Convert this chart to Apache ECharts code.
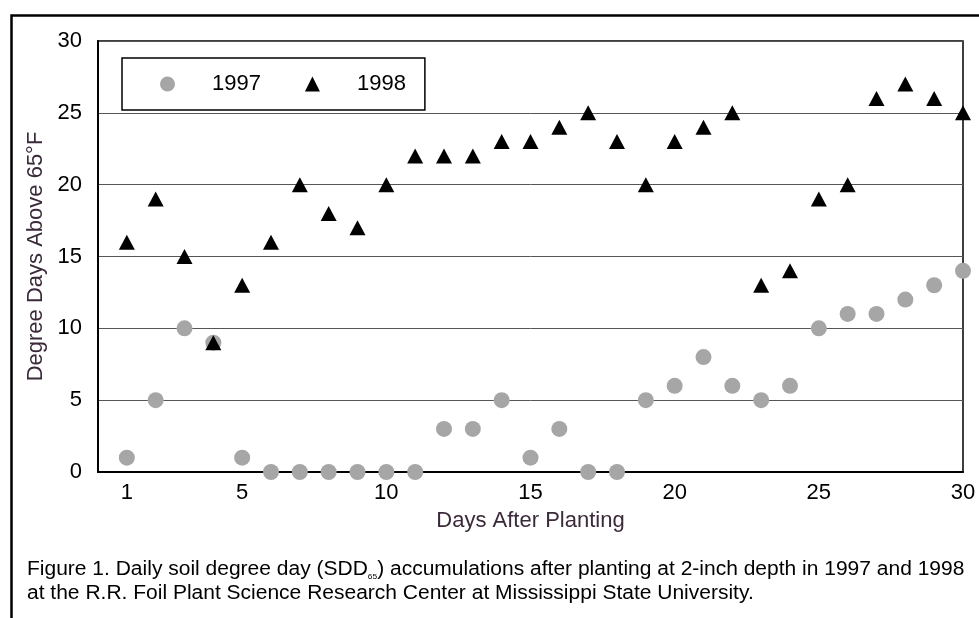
<!DOCTYPE html>
<html>
<head>
<meta charset="utf-8">
<script src="https://cdn.jsdelivr.net/npm/echarts@6/dist/echarts.min.js"></script>
<style>
html,body{margin:0;padding:0;background:#fff;}
#c{width:979px;height:618px;}
</style>
</head>
<body>
<div id="c"></div>
<script>
const days = [1,2,3,4,5,6,7,8,9,10,11,12,13,14,15,16,17,18,19,20,21,22,23,24,25,26,27,28,29,30];
const values1997 = [1,5,10,9,1,0,0,0,0,0,0,3,3,5,1,3,0,0,5,6,8,6,5,6,10,11,11,12,13,14];
const values1998 = [16,19,15,9,13,16,20,18,17,20,22,22,22,23,23,24,25,23,20,23,24,25,13,14,19,20,26,27,26,25];
const xTickLabels = [1,5,10,15,20,25,30];

const chart = echarts.init(document.getElementById('c'), null, {renderer:'canvas'});
const font = '"Liberation Sans", Arial, sans-serif';
const titleColor = '#3a2a3a';

chart.setOption({
  animation: false,
  backgroundColor: '#fff',
  textStyle: {fontFamily: font},
  grid: {left: 98, top: 41, right: 16, bottom: 146, show: true, borderColor: '#000', borderWidth: 1.5},
  legend: {
    left: 122, top: 58,
    orient: 'horizontal',
    backgroundColor: '#fff',
    borderColor: '#000', borderWidth: 1.5, borderRadius: 0,
    padding: [15, 19, 15, 38],
    itemWidth: 15, itemHeight: 15, itemGap: 44,
    textStyle: {fontSize: 22, color: '#000', fontFamily: font, padding: [0, 0, 0, 32]},
    data: [{name: '1997', icon: 'circle'}, {name: '1998', icon: 'triangle'}]
  },
  xAxis: {
    type: 'value', min: 0, max: 30,
    name: 'Days After Planting', nameLocation: 'middle', nameGap: 38,
    nameTextStyle: {fontSize: 22, color: titleColor, fontFamily: font},
    axisLine: {show: true, onZero: false, lineStyle: {color: '#000', width: 2}},
    axisTick: {show: false},
    splitLine: {show: false},
    axisLabel: {customValues: xTickLabels, fontSize: 22, color: '#000', margin: 10, fontFamily: font}
  },
  yAxis: {
    type: 'value', min: 0, max: 30, interval: 5,
    name: 'Degree Days Above 65°F', nameLocation: 'middle', nameGap: 50,
    nameTextStyle: {fontSize: 22, color: titleColor, fontFamily: font},
    axisLine: {show: true, lineStyle: {color: '#000', width: 2}},
    axisTick: {show: false},
    splitLine: {show: true, lineStyle: {color: '#555', width: 1}},
    axisLabel: {fontSize: 22, color: '#000', margin: 16, fontFamily: font}
  },
  series: [
    {
      name: '1997', type: 'scatter', symbol: 'circle', symbolSize: 16,
      itemStyle: {color: '#a6a6a6', opacity: 1},
      data: days.map((d, i) => [d, values1997[i]]),
      z: 3
    },
    {
      name: '1998', type: 'scatter', symbol: 'triangle', symbolSize: [16, 15],
      itemStyle: {color: '#000', opacity: 1},
      data: days.map((d, i) => [d, values1998[i]]),
      z: 4
    }
  ],
  graphic: [
    {type: 'rect', left: 9, top: 13, shape: {x: 0, y: 0, width: 1100, height: 800},
     style: {fill: null, stroke: '#000', lineWidth: 2.5}, silent: true, z: 100},
    {type: 'text', left: 27, top: 557, z: 100, scaleX: 1.05, originX: 0,
     style: {
       text: 'Figure 1. Daily soil degree day (SDD{sub|65}) accumulations after planting at 2-inch depth in 1997 and 1998\nat the R.R. Foil Plant Science Research Center at Mississippi State University.',
       font: '20px ' + font, fill: '#000', lineHeight: 24,
       rich: {sub: {fontSize: 8, fontFamily: font, fill: '#000', verticalAlign: 'bottom', lineHeight: 14}}
     }}
  ]
});
</script>
</body>
</html>
